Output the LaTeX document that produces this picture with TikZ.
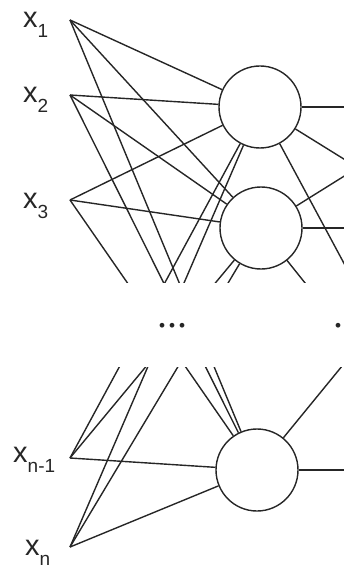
\documentclass[tikz,border=0pt]{standalone}
\usepackage{fontspec}
\setmainfont{Liberation Sans}
\newfontfamily\dotfont{Liberation Serif}
\usepackage{tikz}
\usetikzlibrary{positioning}

\newcommand{\xsub}[1]{x\raisebox{-10pt}{\fontsize{19}{19}\selectfont #1}}

\begin{document}
\begin{tikzpicture}[x=1pt,y=-1pt,
  neuron/.style={circle,draw=black!85,line width=1.4pt,fill=white,minimum size=82pt,inner sep=0pt},
  conn/.style={draw=black!85,line width=1.4pt},
  lab/.style={anchor=base west,inner sep=0pt,text=black!85,font=\fontsize{29}{29}\selectfont},
  gapdots/.style={anchor=base,inner sep=0pt,text=black!85,font=\fontsize{40}{40}\dotfont}]
\useasboundingbox (0,0) rectangle (344,569);
\clip (0,0) rectangle (344,569);

% inputs
\coordinate (in1) at (70,20);
\coordinate (in2) at (70,95);
\coordinate (in3) at (70,200);
\coordinate (inn1) at (70,458);
\coordinate (inn) at (70,547);

\node[lab] (lab1) at (23,28) {\xsub{1}};
\node[lab] (lab2) at (23,103) {\xsub{2}};
\node[lab] (lab3) at (23,208) {\xsub{3}};
\node[lab] (labn1) at (13,462) {\xsub{n-1}};
\node[lab] (labn) at (25,555) {\xsub{n}};

% hidden layer
\node[neuron] (h1) at (260,107) {};
\node[neuron] (h2) at (261,228) {};
\node[neuron] (hn) at (257,470) {};

% next layer (off the picture)
\coordinate (o1) at (455,107);
\coordinate (o2) at (455,228);
\coordinate (on) at (455,470);

\foreach \i in {in1,in2,in3,inn1,inn}
  \foreach \h in {h1,h2,hn}
    \draw[conn] (\i) -- (\h);

\foreach \o in {o1,o2,on} {
  \draw[conn] (h1) -- (\o);
  \draw[conn] (h2) -- (\o);
}
\draw[conn] (hn) -- (o2);
\draw[conn] (hn) -- (on);

% gap
\fill[white] (107,283) rectangle (350,367);
\node[gapdots] (dots1) at (172,327) {...};
\node[gapdots] (dots2) at (338,327) {.};
\end{tikzpicture}
\end{document}
